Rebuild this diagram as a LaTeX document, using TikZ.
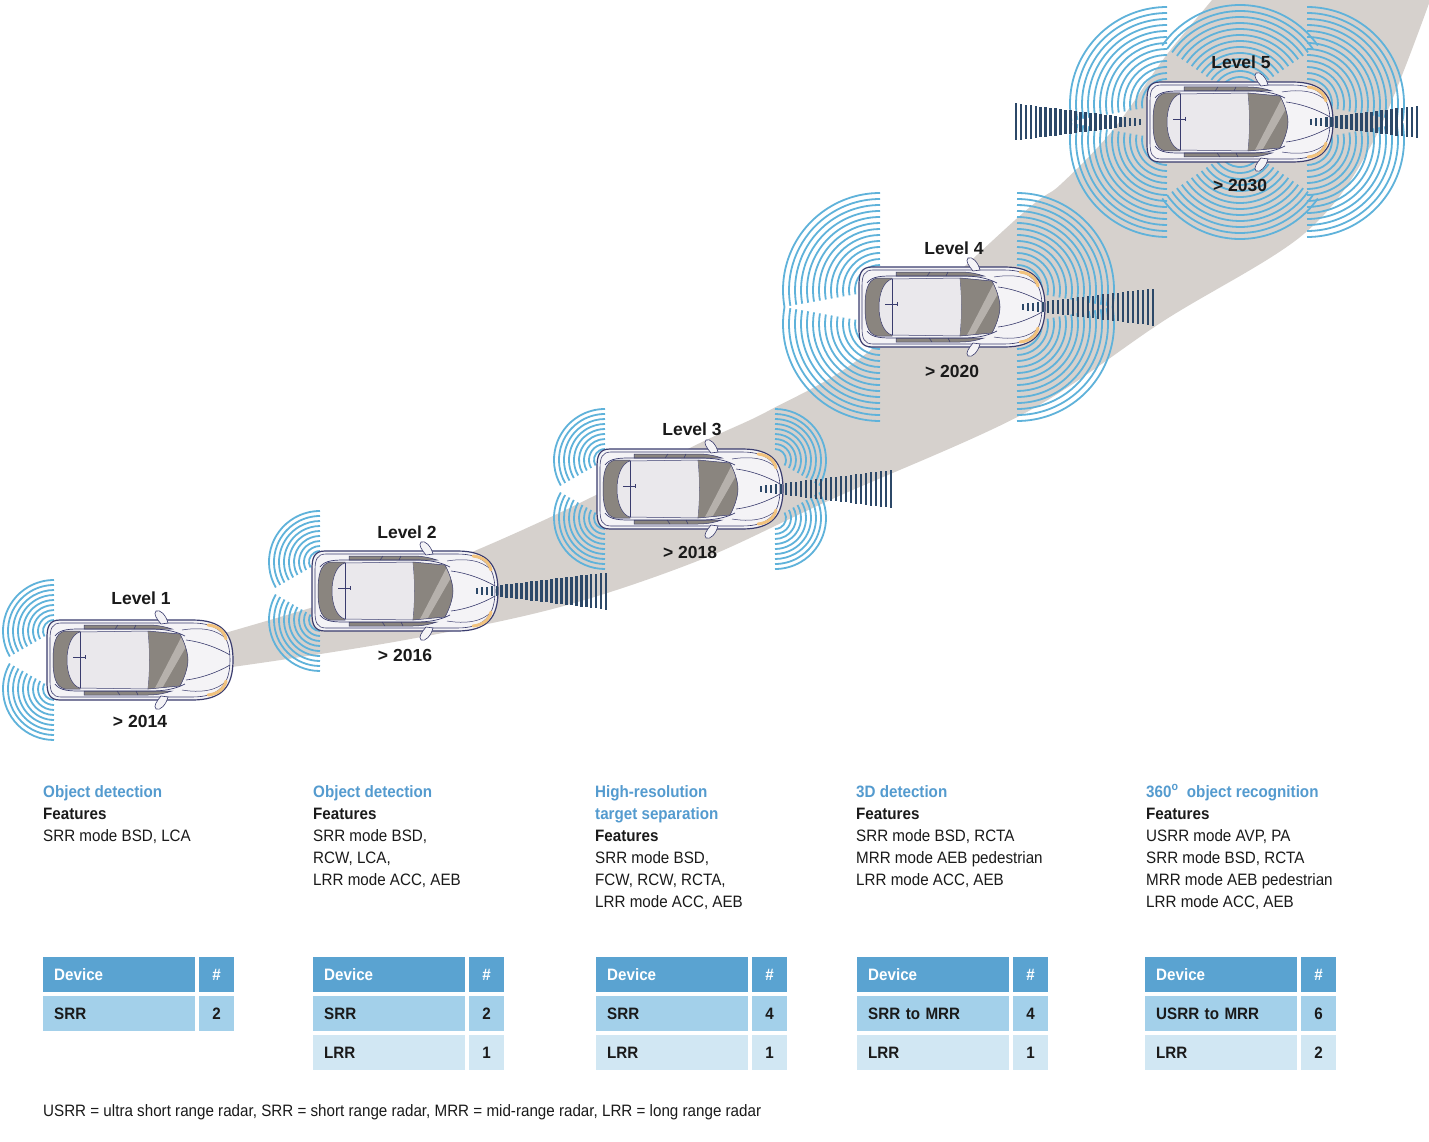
\documentclass[tikz,border=0pt]{standalone}
\usepackage{fontspec}
\setmainfont[FakeStretch=0.92]{Liberation Sans}
\newfontfamily\lvfont{Liberation Sans}
\definecolor{arcblue}{RGB}{95,178,218}
\definecolor{barnavy}{RGB}{44,72,104}
\definecolor{bandgrey}{RGB}{214,209,205}
\definecolor{carline}{RGB}{58,60,110}
\definecolor{carbody}{RGB}{244,243,246}
\definecolor{carroof}{RGB}{234,232,236}
\definecolor{carglass}{RGB}{138,133,127}
\definecolor{carstripe}{RGB}{182,177,172}
\definecolor{headl}{RGB}{241,194,125}
\definecolor{hdrblue}{RGB}{84,155,207}
\definecolor{tabhead}{RGB}{90,163,209}
\definecolor{tabrow1}{RGB}{163,208,234}
\definecolor{tabrow2}{RGB}{209,231,243}
\definecolor{txt}{RGB}{26,26,26}
\newcommand\radfan[7]{\foreach \rr in {#5,#6,...,#7}{\draw[fanline] (#1,#2) ++(#3:\rr) arc[start angle=#3, end angle=#4, radius=\rr];}}
\newcommand\radbars[6]{\foreach \i in {0,...,#6}{\pgfmathsetmacro\bx{#1+(#2-#1)*\i/#6}\pgfmathsetmacro\bh{0.5*(#4+(#5-#4)*\i/#6)}\fill[barnavy] (\bx-1.35,#3-\bh) rectangle (\bx+1.35,#3+\bh);}}
\tikzset{
  fanline/.style={draw=arcblue, line width=1.8pt},
  txtbase/.style={inner sep=0pt, anchor=base west, font=\fontsize{16.5}{20}\selectfont},
  hdr/.style={txtbase, text=hdrblue, font=\fontsize{16.5}{20}\selectfont\bfseries},
  feat/.style={txtbase, text=txt, font=\fontsize{16.5}{20}\selectfont\bfseries},
  body/.style={txtbase, text=txt},
  lvl/.style={inner sep=0pt, anchor=base, text=txt, font=\lvfont\fontsize{17.5}{20}\selectfont\bfseries},
  cellbase/.style={inner ysep=0pt, anchor=north west, minimum height=35pt, text height=11.8pt, text depth=0pt, font=\fontsize{16.5}{20}\selectfont\bfseries},
  devcell/.style={cellbase, text width=130pt, align=left, inner xsep=11pt},
  numcell/.style={cellbase, text width=35pt, align=center, inner xsep=0pt},
  hcell/.style={fill=tabhead, text=white},
  r1cell/.style={fill=tabrow1, text=txt},
  r2cell/.style={fill=tabrow2, text=txt},
  car/.pic={
    \filldraw[carline, fill=carbody, line width=1.2pt] (-80,-40) -- (52,-40) .. controls (82,-40) and (93,-27) .. (93,0) .. controls (93,27) and (82,40) .. (52,40) -- (-80,40) .. controls (-91,40) and (-93,33) .. (-93,22) -- (-93,-22) .. controls (-93,-33) and (-91,-40) .. (-80,-40) -- cycle;
    \draw[carline, line width=0.6pt] (-79,-37) -- (52,-37) .. controls (79,-37) and (90,-25) .. (90,0) .. controls (90,25) and (79,37) .. (52,37) -- (-79,37) .. controls (-88,37) and (-90,31) .. (-90,21) -- (-90,-21) .. controls (-90,-31) and (-88,-37) .. (-79,-37) -- cycle;
    % side windows
    \filldraw[fill=carglass, draw=carline, line width=0.5pt] (-56,-35) -- (8,-35) .. controls (18,-35) and (26,-33) .. (32,-31) -- (-56,-31) -- cycle;
    \filldraw[fill=carglass, draw=carline, line width=0.5pt] (-56,35) -- (8,35) .. controls (18,35) and (26,33) .. (32,31) -- (-56,31) -- cycle;
    \draw[carline, line width=0.5pt] (-22,-35) -- (-25,-31) (-20,35) -- (-23,31) (-4,-35) -- (-6,-31) (-2,35) -- (-4,31);
    % cabin outline
    \draw[carline, line width=0.7pt] (-85,-24) .. controls (-80,-31) and (-70,-31) .. (-58,-31) -- (10,-31) .. controls (25,-31) and (35,-29) .. (45,-24);
    \draw[carline, line width=0.7pt] (-85,24) .. controls (-80,31) and (-70,31) .. (-58,31) -- (10,31) .. controls (25,31) and (35,29) .. (45,24);
    % rear window
    \filldraw[fill=carglass, draw=carline, line width=0.5pt] (-60,-29) -- (-75,-29) .. controls (-85,-27) and (-87,-15) .. (-87,0) .. controls (-87,15) and (-85,27) .. (-75,29) -- (-60,29) -- cycle;
    % roof
    \filldraw[fill=carroof, draw=carline, line width=0.5pt] (-60,-28) -- (8,-29) .. controls (10,-10) and (10,10) .. (8,29) -- (-60,28) .. controls (-68,26) and (-73,14) .. (-73,0) .. controls (-73,-14) and (-68,-26) .. (-60,-28) -- cycle;
    \draw[carline, line width=0.5pt] (-60,-28) -- (-60,28);
    \draw[carline, line width=0.6pt] (-67,-3) -- (-55,-3) (-55,-5) -- (-55,-1);
    % windshield
    \begin{scope}
      \path[clip] (8,-29) -- (40,-26) .. controls (46,-15) and (48,-5) .. (48,0) .. controls (48,5) and (46,15) .. (40,26) -- (8,29) .. controls (10,10) and (10,-10) .. (8,-29) -- cycle;
      \fill[carglass] (0,-35) rectangle (50,35);
      \fill[carstripe] (45,-30) -- (51,-22) -- (20,32) -- (13,32) -- cycle;
    \end{scope}
    \draw[carline, line width=0.5pt] (8,-29) -- (40,-26) .. controls (46,-15) and (48,-5) .. (48,0) .. controls (48,5) and (46,15) .. (40,26) -- (8,29);
    % hood lines
    \draw[carline, line width=0.6pt] (46,-20) .. controls (62,-18) and (78,-12) .. (90,-5);
    \draw[carline, line width=0.6pt] (46,20) .. controls (62,18) and (78,12) .. (90,5);
    \draw[carline, line width=0.5pt] (42,-30) .. controls (60,-33) and (78,-31) .. (87,-20);
    \draw[carline, line width=0.5pt] (42,30) .. controls (60,33) and (78,31) .. (87,20);
    % mirrors
    \filldraw[fill=carbody, draw=carline, line width=0.6pt] (16,-49) .. controls (20,-51) and (26,-45) .. (28,-37) -- (21,-36) .. controls (17,-41) and (13,-46) .. (16,-49) -- cycle;
    \filldraw[fill=carbody, draw=carline, line width=0.6pt] (16,49) .. controls (20,51) and (26,45) .. (28,37) -- (21,36) .. controls (17,41) and (13,46) .. (16,49) -- cycle;
    % headlights
    \draw[headl, line width=3pt, line cap=round] (68,-35) .. controls (78,-34) and (84,-29) .. (86,-21);
    \draw[headl, line width=3pt, line cap=round] (68,35) .. controls (78,34) and (84,29) .. (86,21);
  }
}
\begin{document}
\begin{tikzpicture}[x=1pt,y=-1pt]
\useasboundingbox (0,0) rectangle (1429,1142);
\fill[white] (0,0) rectangle (1429,1142);
% road band
\begin{scope}
\clip (0,0) rectangle (1429,1142);
\fill[bandgrey] plot[smooth, tension=0.55] coordinates {(150,652) (232,631) (405,578) (540,522) (700,443) (770,410) (867,353) (1023,213) (1060,185) (1113,130) (1165,57) (1212,0) (1220,-10)} -- (1440,-10) -- plot[smooth, tension=0.55] coordinates {(1432,-5) (1374,140) (1305,233) (1165,320) (1025,413) (830,500) (700,560) (560,607) (405,640) (232,667) (150,675)} -- cycle;
\end{scope}
% radar fans
\radfan{54}{631}{150}{270}{11}{16}{51}
\radfan{54}{689}{90}{210}{11}{16}{51}
\radfan{320}{562}{150}{270}{11}{16}{51}
\radfan{320}{620}{90}{210}{11}{16}{51}
\radfan{605}{460}{150}{270}{11}{16}{51}
\radfan{605}{518}{90}{210}{11}{16}{51}
\radfan{775}{460}{-90}{30}{11}{16}{51}
\radfan{775}{518}{-30}{90}{11}{16}{51}
\radfan{880}{290}{170}{270}{25}{31}{97}
\radfan{880}{324}{90}{190}{25}{31}{97}
\radfan{1017}{290}{-90}{10}{25}{31}{97}
\radfan{1017}{324}{-10}{90}{25}{31}{97}
\radfan{1167}{104}{170}{270}{25}{31}{97}
\radfan{1167}{140}{90}{190}{25}{31}{97}
\radfan{1240}{100}{215}{325}{23}{29}{95}
\radfan{1240}{144}{35}{145}{23}{29}{95}
\radfan{1307}{104}{-90}{10}{25}{31}{97}
\radfan{1307}{140}{-10}{90}{25}{31}{97}
% cars
\pic (car1) at (140,660) {car};
\pic (car2) at (405,591) {car};
\pic (car3) at (690,489) {car};
\pic (car4) at (952,307) {car};
\pic (car5) at (1240,122) {car};
% long range radar bars
\radbars{477}{606}{591}{6}{37}{26}
\radbars{761}{891}{489}{6}{38}{26}
\radbars{1023}{1153}{307}{6}{37}{26}
\radbars{1140}{1016}{122}{6}{37}{25}
\radbars{1311}{1417}{122}{6}{32}{21}
% level labels
\node[lvl] (l1) at (141,604) {Level 1};
\node[lvl] (y1) at (140,727) {> 2014};
\node[lvl] (l2) at (407,538) {Level 2};
\node[lvl] (y2) at (405,661) {> 2016};
\node[lvl] (l3) at (692,435) {Level 3};
\node[lvl] (y3) at (690,558) {> 2018};
\node[lvl] (l4) at (954,254) {Level 4};
\node[lvl] (y4) at (952,377) {> 2020};
\node[lvl] (l5) at (1241,69) {Level 5};
\node[lvl] (y5) at (1240,192) {> 2030};
% feature texts
\node[hdr] (c1a) at (43,797) {Object detection};
\node[feat] (c1b) at (43,819) {Features};
\node[body] (c1c) at (43,841) {SRR mode BSD, LCA};
\node[hdr] (c2a) at (313,797) {Object detection};
\node[feat] (c2b) at (313,819) {Features};
\node[body] (c2c) at (313,841) {SRR mode BSD,};
\node[body] (c2d) at (313,863) {RCW, LCA,};
\node[body] (c2e) at (313,885) {LRR mode ACC, AEB};
\node[hdr] (c3a) at (595,797) {High-resolution};
\node[hdr] (c3b) at (595,819) {target separation};
\node[feat] (c3c) at (595,841) {Features};
\node[body] (c3d) at (595,863) {SRR mode BSD,};
\node[body] (c3e) at (595,885) {FCW, RCW, RCTA,};
\node[body] (c3f) at (595,907) {LRR mode ACC, AEB};
\node[hdr] (c4a) at (856,797) {3D detection};
\node[feat] (c4b) at (856,819) {Features};
\node[body] (c4c) at (856,841) {SRR mode BSD, RCTA};
\node[body] (c4d) at (856,863) {MRR mode AEB pedestrian};
\node[body] (c4e) at (856,885) {LRR mode ACC, AEB};
\node[hdr] (c5a) at (1146,797) {360\textsuperscript{o}\ \ object recognition};
\node[feat] (c5b) at (1146,819) {Features};
\node[body] (c5c) at (1146,841) {USRR mode AVP, PA};
\node[body] (c5d) at (1146,863) {SRR mode BSD, RCTA};
\node[body] (c5e) at (1146,885) {MRR mode AEB pedestrian};
\node[body] (c5f) at (1146,907) {LRR mode ACC, AEB};
% tables
\node[devcell, hcell] (t1h) at (43,957) {Device};
\node[numcell, hcell] (t1hn) at (199,957) {\#};
\node[devcell, r1cell] (t1a) at (43,996) {SRR};
\node[numcell, r1cell] (t1an) at (199,996) {2};
\node[devcell, hcell] (t2h) at (313,957) {Device};
\node[numcell, hcell] (t2hn) at (469,957) {\#};
\node[devcell, r1cell] (t2a) at (313,996) {SRR};
\node[numcell, r1cell] (t2an) at (469,996) {2};
\node[devcell, r2cell] (t2b) at (313,1035) {LRR};
\node[numcell, r2cell] (t2bn) at (469,1035) {1};
\node[devcell, hcell] (t3h) at (596,957) {Device};
\node[numcell, hcell] (t3hn) at (752,957) {\#};
\node[devcell, r1cell] (t3a) at (596,996) {SRR};
\node[numcell, r1cell] (t3an) at (752,996) {4};
\node[devcell, r2cell] (t3b) at (596,1035) {LRR};
\node[numcell, r2cell] (t3bn) at (752,1035) {1};
\node[devcell, hcell] (t4h) at (857,957) {Device};
\node[numcell, hcell] (t4hn) at (1013,957) {\#};
\node[devcell, r1cell] (t4a) at (857,996) {SRR to MRR};
\node[numcell, r1cell] (t4an) at (1013,996) {4};
\node[devcell, r2cell] (t4b) at (857,1035) {LRR};
\node[numcell, r2cell] (t4bn) at (1013,1035) {1};
\node[devcell, hcell] (t5h) at (1145,957) {Device};
\node[numcell, hcell] (t5hn) at (1301,957) {\#};
\node[devcell, r1cell] (t5a) at (1145,996) {USRR to MRR};
\node[numcell, r1cell] (t5an) at (1301,996) {6};
\node[devcell, r2cell] (t5b) at (1145,1035) {LRR};
\node[numcell, r2cell] (t5bn) at (1301,1035) {2};
% footer
\node[body] (foot) at (43,1116) {USRR = ultra short range radar, SRR = short range radar, MRR = mid-range radar, LRR = long range radar};
\end{tikzpicture}
\end{document}
